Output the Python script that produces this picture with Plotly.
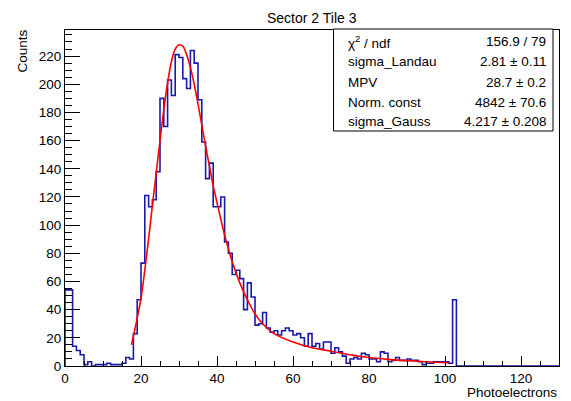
import plotly.graph_objects as go

# ---- data ----
bin_low = 0
bin_width = 1
counts = [54, 54, 14, 11, 8, 1, 3, 0, 1, 1,
          1, 2, 1, 1, 1, 2, 6, 5, 23, 47,
          73, 121, 113, 118, 138, 190, 170, 203, 192, 221,
          219, 204, 197, 224, 215, 189, 159, 133, 144, 113,
          113, 120, 88, 80, 65, 68, 62, 40, 59, 49,
          29, 30, 38, 27, 24, 25, 22, 25, 27, 25,
          22, 23, 20, 14, 23, 14, 16, 12, 17, 17,
          9, 13, 10, 7, 2, 5, 6, 5, 9, 8,
          5, 5, 3, 10, 9, 3, 4, 6, 4, 4,
          5, 4, 4, 3, 1, 2, 2, 3, 3, 3,
          3, 2, 47, 0, 0, 0, 0, 0, 0, 0,
          0, 0, 0, 0, 0, 0, 0, 0, 0, 0,
          0, 0, 0, 0, 0, 0, 0, 0, 0, 0]

fit_x = [17.5, 19, 20, 21, 22, 23, 24, 25, 26, 27, 28, 29, 30, 31, 32, 33, 34,
         35, 36, 37, 38, 39, 40, 42, 44, 46, 48, 50, 52, 55, 60, 65, 70, 75,
         80, 85, 90, 95, 101]
fit_y = [15, 34, 48, 68, 90, 114, 137, 160, 182, 201, 216, 225, 228, 227, 221,
         212, 200, 186, 171, 156, 142, 128, 116, 93, 74, 59, 47, 37, 30, 23,
         17, 13, 10.5, 8, 6, 4.7, 3.8, 3, 2.3]

title = "Sector 2 Tile 3"
x_title = "Photoelectrons"
y_title = "Counts"
stat_names = ["χ<sup>2</sup> / ndf", "sigma_Landau", "MPV", "Norm. const", "sigma_Gauss"]
stat_values = ["156.9 / 79", "2.81 ± 0.11", "28.7 ± 0.2", "4842 ± 70.6", "4.217 ± 0.208"]

# ---- build step outline ----
edges = [bin_low + i * bin_width for i in range(len(counts) + 1)]
hx = [edges[0]] + edges
hy = [0] + counts + [counts[-1]]

FONT = "Liberation Sans, Arial, Helvetica, sans-serif"
W, H = 571, 401
L, R, T, B = 65, 12, 30, 35
pw, ph = W - L - R, H - T - B

def px(xp):
    return (xp - L) / pw

def py(yp):
    return (H - B - yp) / ph

fig = go.Figure()
fig.add_trace(go.Scatter(x=hx, y=hy, mode="lines", line=dict(color="#1a1aa8", width=1.6, shape="hv"),
                         hoverinfo="skip", showlegend=False))
fig.add_trace(go.Scatter(x=fit_x, y=fit_y, mode="lines", line=dict(color="#ff0000", width=1.6, shape="spline"),
                         hoverinfo="skip", showlegend=False))

axis_common = dict(showgrid=False, zeroline=False, showline=True, linecolor="black", linewidth=1,
                   mirror=True, ticks="inside", tickcolor="black", tickwidth=1,
                   tickfont=dict(family=FONT, size=13.5, color="black"))

fig.update_xaxes(range=[0, 130], tick0=0, dtick=20, ticklen=10,
                 minor=dict(dtick=5, ticks="inside", ticklen=5, tickcolor="black"),
                 **axis_common)
fig.update_yaxes(range=[0, 238.5], tick0=0, dtick=20, ticklen=15,
                 minor=dict(dtick=5, ticks="inside", ticklen=7, tickcolor="black"),
                 **axis_common)

shapes = [dict(type="rect", xref="paper", yref="paper", x0=px(333.5), x1=px(553), y0=py(131), y1=py(29),
               line=dict(color="black", width=1), fillcolor="white", layer="above")]

ann = []
ann.append(dict(text=title, xref="paper", yref="paper", x=0.5, y=py(18), xanchor="center", yanchor="middle",
                showarrow=False, font=dict(family=FONT, size=14, color="black")))
ann.append(dict(text=x_title, xref="paper", yref="paper", x=1.0, y=py(392), xanchor="right", yanchor="middle",
                showarrow=False, font=dict(family=FONT, size=13.5, color="black")))
ann.append(dict(text=y_title, xref="paper", yref="paper", x=px(22), y=py(28), xanchor="center", yanchor="top",
                textangle=-90, showarrow=False, font=dict(family=FONT, size=13.5, color="black")))
row_y = [41.7, 61.7, 82, 102, 121.7]
for name, val, yy in zip(stat_names, stat_values, row_y):
    ann.append(dict(text=name, xref="paper", yref="paper", x=px(346), y=py(yy), xanchor="left", yanchor="middle",
                    showarrow=False, font=dict(family=FONT, size=13.5, color="black")))
    ann.append(dict(text=val, xref="paper", yref="paper", x=px(548), y=py(yy), xanchor="right", yanchor="middle",
                    showarrow=False, font=dict(family=FONT, size=13.5, color="black")))

fig.update_layout(width=W, height=H, margin=dict(l=L, r=R, t=T, b=B, pad=0),
                  paper_bgcolor="white", plot_bgcolor="white", shapes=shapes, annotations=ann,
                  showlegend=False)

fig.write_html("out.html", config={"displayModeBar": False},
               post_script="document.body.style.margin='0';document.body.style.overflow='hidden';")
